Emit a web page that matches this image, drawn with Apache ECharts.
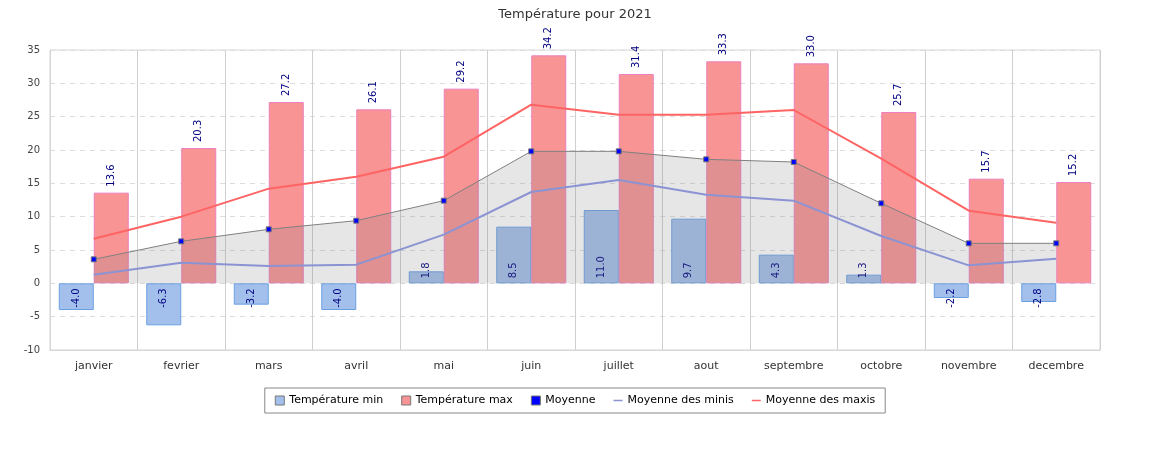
<!DOCTYPE html>
<html>
<head>
<meta charset="utf-8">
<script src="https://cdn.jsdelivr.net/npm/echarts@6/dist/echarts.min.js"></script>
<style>
  html, body { margin: 0; padding: 0; background: #fff; }
  #chart { width: 1150px; height: 450px; }
</style>
</head>
<body>
<div id="chart"></div>
<script>
const months = ['janvier', 'fevrier', 'mars', 'avril', 'mai', 'juin', 'juillet', 'aout', 'septembre', 'octobre', 'novembre', 'decembre']
const tempMin = [-4.0, -6.3, -3.2, -4.0, 1.8, 8.5, 11.0, 9.7, 4.3, 1.3, -2.2, -2.8]
const tempMax = [13.6, 20.3, 27.2, 26.1, 29.2, 34.2, 31.4, 33.3, 33.0, 25.7, 15.7, 15.2]
const moyenne = [3.6, 6.3, 8.1, 9.4, 12.4, 19.8, 19.8, 18.6, 18.2, 12.0, 6.0, 6.0]
const moyMinis = [1.3, 3.1, 2.6, 2.8, 7.3, 13.7, 15.5, 13.3, 12.4, 7.1, 2.7, 3.7]
const moyMaxis = [6.7, 10.0, 14.2, 16.0, 19.0, 26.8, 25.3, 25.3, 26.0, 18.7, 10.9, 9.1]

const font = 'DejaVu Sans'
const labelColor = '#000080'

// labels des minis : collés à la ligne zéro, dans la barre
const minData = tempMin.map(v => ({
  value: v,
  label: v >= 0
    ? { position: 'insideBottom', align: 'left' }
    : { position: 'insideTop', align: 'right' }
}))

const chart = echarts.init(document.getElementById('chart'))

chart.setOption({
  animation: false,
  textStyle: { fontFamily: font },
  title: {
    text: 'Température pour 2021',
    left: 'center',
    top: 3,
    textStyle: { fontSize: 13, fontWeight: 'normal', color: '#333', fontFamily: font }
  },
  legend: {
    left: 'center',
    top: 388,
    padding: [7, 10],
    itemGap: 18,
    itemWidth: 9,
    itemHeight: 9,
    borderColor: '#888',
    borderWidth: 1,
    textStyle: { fontSize: 11, color: '#000', fontFamily: font },
    data: [
      { name: 'Température min', icon: 'rect', itemStyle: { borderColor: '#777', borderWidth: 1 } },
      { name: 'Température max', icon: 'rect', itemStyle: { borderColor: '#777', borderWidth: 1 } },
      { name: 'Moyenne', icon: 'rect', itemStyle: { color: '#0000ff', borderColor: '#777', borderWidth: 1 } },
      { name: 'Moyenne des minis', icon: 'path://M0,0 L12,0 L12,2 L0,2 Z' },
      { name: 'Moyenne des maxis', icon: 'path://M0,0 L12,0 L12,2 L0,2 Z' }
    ]
  },
  grid: {
    left: 50,
    right: 50,
    top: 50,
    bottom: 100,
    show: true,
    borderColor: '#d6d6d6',
    borderWidth: 1
  },
  xAxis: {
    type: 'category',
    data: months,
    axisLine: { onZero: false, lineStyle: { color: '#d6d6d6' } },
    axisTick: { show: false },
    axisLabel: { color: '#333', fontSize: 11, margin: 11 },
    splitLine: { show: true, lineStyle: { color: '#cfcfcf', type: 'solid' } }
  },
  yAxis: {
    type: 'value',
    min: -10,
    max: 35,
    interval: 5,
    axisLine: { show: true, lineStyle: { color: '#d6d6d6' } },
    axisTick: { show: false },
    axisLabel: { color: '#444', fontSize: 10, margin: 10 },
    splitLine: { lineStyle: { color: '#ddd', type: [5, 5] } }
  },
  series: [
    {
      name: 'Température min',
      type: 'bar',
      data: minData,
      barWidth: 35,
      barGap: '0%',
      itemStyle: { color: '#a3c0ec', borderColor: '#6aa0e2', borderWidth: 1 },
      label: {
        show: true,
        rotate: 90,
        verticalAlign: 'middle',
        distance: 5,
        fontSize: 10,
        color: labelColor,
        formatter: p => p.value.toFixed(1)
      }
    },
    {
      name: 'Température max',
      type: 'bar',
      data: tempMax,
      barWidth: 35,
      barGap: '0%',
      itemStyle: { color: '#f89494', borderColor: '#ec7fbd', borderWidth: 1 },
      label: {
        show: true,
        position: 'top',
        rotate: 90,
        align: 'left',
        verticalAlign: 'middle',
        distance: 6,
        fontSize: 10,
        color: labelColor,
        formatter: p => p.value.toFixed(1)
      }
    },
    {
      name: 'Moyenne',
      type: 'line',
      data: moyenne,
      symbol: 'rect',
      symbolSize: 5,
      itemStyle: { color: '#0000ff', borderColor: '#777', borderWidth: 1 },
      lineStyle: { color: '#808080', width: 1 },
      areaStyle: { color: 'rgba(128,128,128,0.2)', opacity: 1 }
    },
    {
      name: 'Moyenne des minis',
      type: 'line',
      data: moyMinis,
      symbol: 'none',
      itemStyle: { color: '#8b93d3' },
      lineStyle: { color: '#8b93d3', width: 2 }
    },
    {
      name: 'Moyenne des maxis',
      type: 'line',
      data: moyMaxis,
      symbol: 'none',
      itemStyle: { color: '#ff6464' },
      lineStyle: { color: '#ff6464', width: 2 }
    }
  ]
})
</script>
</body>
</html>
